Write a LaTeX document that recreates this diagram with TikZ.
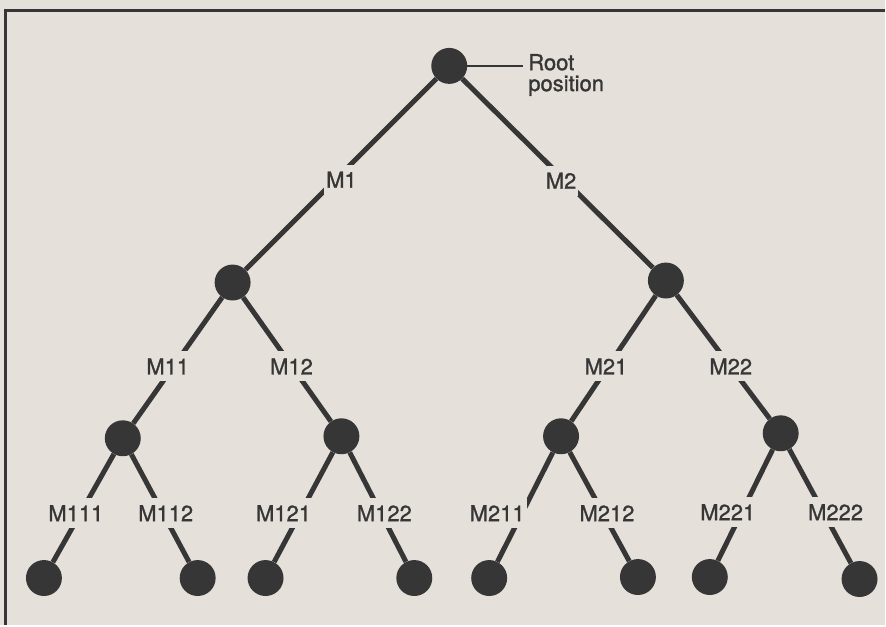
\documentclass[tikz,border=0pt]{standalone}
\usepackage{fontspec}
\setmainfont{TeX Gyre Heros}[FakeBold=1.2]
\usepackage{tikz}
\definecolor{paper}{HTML}{E6E0DA}
\definecolor{ink}{HTML}{363636}

\begin{document}
\begin{tikzpicture}[x=1pt,y=-1pt,
    font=\fontsize{22}{21}\selectfont,text=ink,
    state/.style={circle,fill=ink,minimum size=36pt,inner sep=0pt},
    branch/.style={draw=ink,line width=5pt},
    mv/.style={fill=paper,inner xsep=2pt,inner ysep=7pt}]
  \fill[paper] (0,0) rectangle (886,626);
  \draw[ink,line width=3pt] (886,11) -- (6,11) -- (6,626);

  % positions in the game tree
  \node[state] (root) at (450,66) {};
  \node[state] (n1) at (233,283) {};
  \node[state] (n2) at (667,281) {};
  \node[state] (n11) at (123,439) {};
  \node[state] (n12) at (342,437) {};
  \node[state] (n21) at (562,437) {};
  \node[state] (n22) at (782,434) {};
  \node[state] (n111) at (44,579) {};
  \node[state] (n112) at (198,579) {};
  \node[state] (n121) at (266,579) {};
  \node[state] (n122) at (415,579) {};
  \node[state] (n211) at (490,579) {};
  \node[state] (n212) at (639,578) {};
  \node[state] (n221) at (711,578) {};
  \node[state] (n222) at (861,580) {};

  % moves
  \draw[branch] (root) -- (n1);
  \draw[branch] (root) -- (n2);
  \draw[branch] (n1) -- (n11);
  \draw[branch] (n1) -- (n12);
  \draw[branch] (n2) -- (n21);
  \draw[branch] (n2) -- (n22);
  \draw[branch] (n11) -- (n111);
  \draw[branch] (n11) -- (n112);
  \draw[branch] (n12) -- (n121);
  \draw[branch] (n12) -- (n122);
  \draw[branch] (n21) -- (n211);
  \draw[branch] (n21) -- (n212);
  \draw[branch] (n22) -- (n221);
  \draw[branch] (n22) -- (n222);

  \node[mv] (m1) at (342,180) {M1};
  \node[mv] (m2) at (562,181) {M2};
  \node[mv] (m11) at (168,367) {M11};
  \node[mv] (m12) at (292,367) {M12};
  \node[mv] (m21) at (607,367) {M21};
  \node[mv] (m22) at (732,367) {M22};
  \node[mv] (m111) at (76,514) {M111};
  \node[mv] (m112) at (166,514) {M112};
  \node[mv] (m121) at (284,514) {M121};
  \node[mv] (m122) at (385,514) {M122};
  \node[mv] (m211) at (498,514) {M211};
  \node[mv] (m212) at (608,514) {M212};
  \node[mv] (m221) at (729,513) {M221};
  \node[mv] (m222) at (837,513) {M222};

  \node[anchor=north west,align=left,inner sep=0pt] (rootlbl) at (529,54) {Root\\position};
  \draw[ink,line width=2pt,shorten >=5pt] (root) -- (root -| rootlbl.west);
\end{tikzpicture}
\end{document}
